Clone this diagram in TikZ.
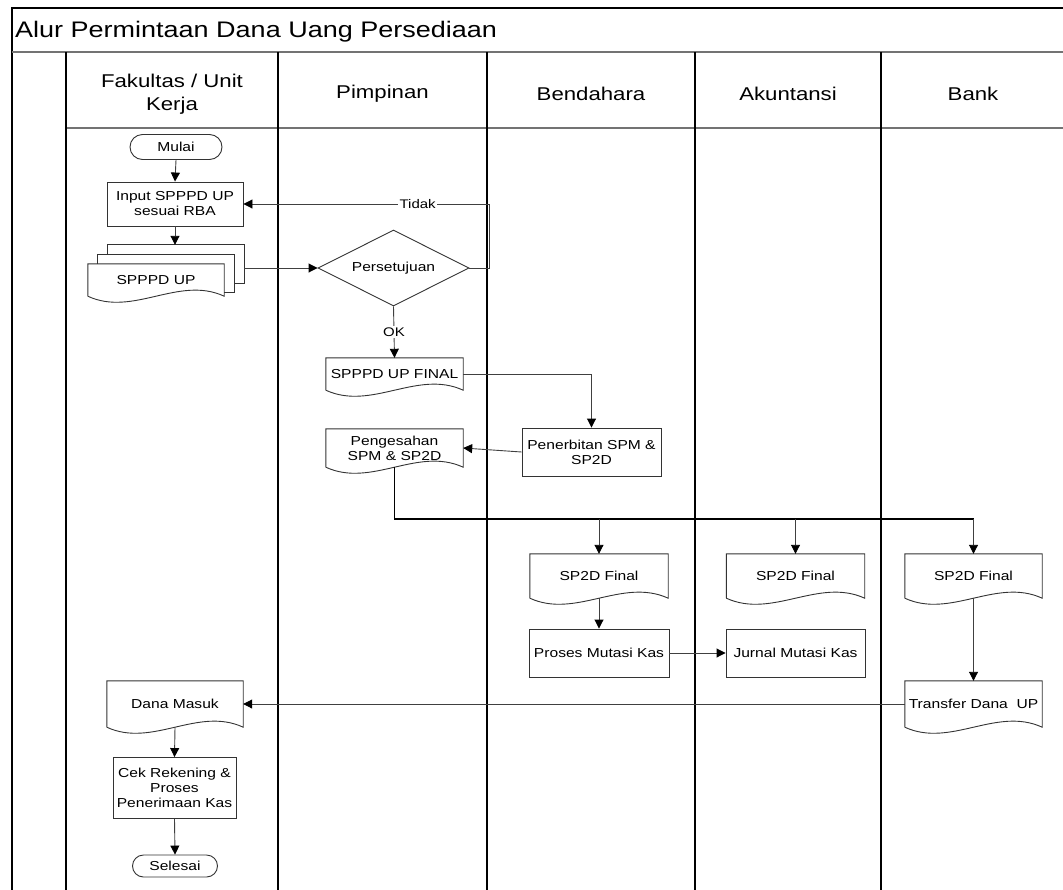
\documentclass[tikz,border=0pt]{standalone}
\usepackage{fontspec}
\setmainfont{Liberation Sans}[FakeStretch=1.2]
\usetikzlibrary{shapes.geometric,shapes.misc,calc,arrows.meta}

\newcommand{\titlefont}{\fontsize{22.5}{26}\selectfont}
\newcommand{\headfont}{\fontsize{18.5}{23}\selectfont}
\newcommand{\nodefont}{\fontsize{13}{15}\selectfont}
\newcommand{\lblfont}{\fontsize{12.5}{14}\selectfont}

% outline of a document symbol: flat top, wavy bottom
\newcommand{\docoutline}[1]{%
  \draw[shapeline] (#1.south west) -- (#1.north west) -- (#1.north east) -- (#1.south east)
    .. controls ($(#1.south east)!0.333!(#1.south west)+(0,-21)$)
    and ($(#1.south east)!0.667!(#1.south west)+(0,21)$) .. (#1.south west);}

\tikzset{
  lane/.style={line width=1.5pt, draw=black},
  sepline/.style={line width=1.8pt, draw=black!55},
  shapeline/.style={line width=0.9pt, draw=black!80},
  box/.style={rectangle, draw=black!80, line width=0.9pt, align=center,
    font=\nodefont, inner sep=0pt},
  docnode/.style={rectangle, align=center, font=\nodefont, inner sep=0pt},
  term/.style={rounded rectangle, draw=black!80, line width=0.9pt,
    font=\nodefont, inner sep=0pt},
  decision/.style={diamond, aspect=2, draw=black!80, line width=0.9pt,
    font=\nodefont, inner sep=0pt},
  flow/.style={line width=0.9pt, draw=black!75,
    -{Triangle[length=9pt,width=9pt,color=black]}},
  bus/.style={line width=1.8pt, draw=black},
  lbl/.style={fill=white, font=\lblfont, inner sep=1.5pt},
  head/.style={font=\headfont, align=center}
}

\begin{document}
\begin{tikzpicture}[x=1pt,y=-1pt]
\useasboundingbox (0,0) rectangle (1063,889);

% ---- swimlane frame ----
\draw[lane] (12,900) -- (12,8) -- (1075,8);
\draw[sepline] (12,52) -- (1075,52);
\draw[sepline] (66,128) -- (1075,128);
\foreach \xx in {66,278,487,695,881}
  \draw[lane] (\xx,52) -- (\xx,900);

\node[font=\titlefont, anchor=west, inner sep=0pt] (title) at (15,32)
  {Alur Permintaan Dana Uang Persediaan};

\node[head] (h1) at (172,94.5) {Fakultas / Unit\\Kerja};
\node[head] (h2) at (382.5,93.5) {Pimpinan};
\node[head] (h3) at (591,93.5) {Bendahara};
\node[head] (h4) at (788,93.5) {Akuntansi};
\node[head] (h5) at (973,93.5) {Bank};

% ---- Fakultas / Unit Kerja ----
\node[term, minimum width=92, minimum height=25] (mulai) at (176,147) {Mulai};
\node[box, minimum width=136, minimum height=44] (input) at (175,204)
  {Input SPPPD UP\\sesuai RBA};

% stacked documents
\node[docnode, minimum width=136, minimum height=32] (sp) at (156,280) {SPPPD UP};
\docoutline{sp}
\draw[shapeline] ([shift={(10,0)}]sp.north west) -- ([shift={(10,-9)}]sp.north west)
  -- ([shift={(10,-9)}]sp.north east) -- ([shift={(10,29)}]sp.north east)
  -- ([shift={(0,29)}]sp.north east);
\draw[shapeline] ([shift={(20,-9)}]sp.north west) -- ([shift={(20,-19)}]sp.north west)
  -- ([shift={(20,-19)}]sp.north east) -- ([shift={(20,20)}]sp.north east)
  -- ([shift={(10,20)}]sp.north east);
\coordinate (sptop) at ([shift={(20,-19)}]sp.north west);
\coordinate (spright) at ([shift={(20,0)}]sp.east);

\node[docnode, minimum width=136, minimum height=46] (dana) at (175,704) {Dana Masuk};
\docoutline{dana}
\node[box, minimum width=123, minimum height=61] (cek) at (174.5,788)
  {Cek Rekening \&\\Proses\\Penerimaan Kas};
\node[term, minimum width=85, minimum height=22] (selesai) at (175,866) {Selesai};

% ---- Pimpinan ----
\node[decision, minimum width=151, minimum height=76] (dia) at (393.5,268) {Persetujuan};
\node[docnode, minimum width=137, minimum height=32] (final) at (394.5,374) {SPPPD UP FINAL};
\docoutline{final}
\node[docnode, minimum width=137, minimum height=38] (sah) at (394.5,448)
  {Pengesahan\\SPM \& SP2D};
\docoutline{sah}

% ---- Bendahara ----
\node[box, minimum width=139, minimum height=48] (terbit) at (591.5,452)
  {Penerbitan SPM \&\\SP2D};
\node[docnode, minimum width=138, minimum height=44] (sp2da) at (599,576) {SP2D Final};
\docoutline{sp2da}
\node[box, minimum width=140, minimum height=48] (proses) at (599,653) {Proses Mutasi Kas};

% ---- Akuntansi ----
\node[docnode, minimum width=138, minimum height=44] (sp2db) at (795.5,576) {SP2D Final};
\docoutline{sp2db}
\node[box, minimum width=139, minimum height=48] (jurnal) at (795.5,653) {Jurnal Mutasi Kas};

% ---- Bank ----
\node[docnode, minimum width=137, minimum height=44] (sp2dc) at (973.5,576) {SP2D Final};
\docoutline{sp2dc}
\node[docnode, minimum width=137, minimum height=46] (transfer) at (973.5,704)
  {Transfer Dana\ \ UP};
\docoutline{transfer}

% ---- connectors ----
\draw[flow] (mulai.south) -- (input.north);
\draw[flow] (input.south) -- (input.south |- sptop);
\draw[flow] (spright |- dia.west) -- (dia.west);
\draw[flow] (dia.east) -- ++(20,0) |- node[lbl, pos=0.646] {Tidak} (input.east);
\draw[flow] (dia.south) -- node[lbl, pos=0.5] {OK} (final.north);
\draw[flow] (final.east) -| (terbit.north);
\draw[flow] (terbit.west) -- (sah.east);

\coordinate (busy) at (0,519);
\draw[bus] (sah.south) |- (sp2dc.north |- busy);
\foreach \n in {sp2da,sp2db,sp2dc}
  \draw[flow] (\n.north |- busy) -- (\n.north);

\draw[flow] (sp2da.south) -- (proses.north);
\draw[flow] (proses.east) -- (jurnal.west);
\draw[flow] (sp2dc.south) -- (transfer.north);
\draw[flow] (transfer.west) -- (dana.east);
\draw[flow] (dana.south) -- (cek.north);
\draw[flow] (cek.south) -- (selesai.north);
\end{tikzpicture}
\end{document}
